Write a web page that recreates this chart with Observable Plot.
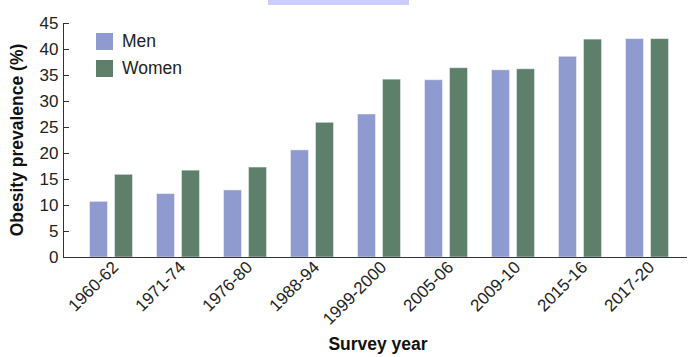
<!DOCTYPE html>
<html>
<head>
<meta charset="utf-8">
<script src="https://cdn.jsdelivr.net/npm/d3@7"></script>
<script src="https://cdn.jsdelivr.net/npm/@observablehq/plot@0.6"></script>
<style>
  body { margin: 0; background: #fff; font-family: "Liberation Sans", Arial, Helvetica, sans-serif; }
  #wrap { position: relative; width: 700px; height: 357px; overflow: hidden; }
  #wrap svg { position: absolute; left: 0; top: 0; }
  .hl { position: absolute; left: 268px; top: 0; width: 141px; height: 5px; background: #ccccff; }
  .ytitle { position: absolute; left: 17px; top: 140px; transform: translate(-50%, -50%) rotate(-90deg);
            font-weight: bold; font-size: 17.5px; color: #111; white-space: nowrap; }
  .xtitle { position: absolute; left: 378px; top: 334px; transform: translateX(-50%);
            font-weight: bold; font-size: 17.5px; color: #111; white-space: nowrap; }
  .legend { position: absolute; left: 96px; top: 28px; font-size: 17.5px; color: #222; }
  .legend .item { display: flex; align-items: center; height: 27px; }
  .legend .sw { width: 17px; height: 17px; margin-right: 9px; }
</style>
</head>
<body>
<div id="wrap"></div>
<script>
const periods = ["1960-62", "1971-74", "1976-80", "1988-94", "1999-2000", "2005-06", "2009-10", "2015-16", "2017-20"];
const menValues = [10.7, 12.2, 12.9, 20.6, 27.5, 34.1, 36.0, 38.6, 42.0];
const womenValues = [15.9, 16.7, 17.3, 25.9, 34.2, 36.4, 36.2, 41.9, 42.0];
const sexes = ["Men", "Women"];
const sexColors = ["#8f9bcf", "#5e806b"];
const yTicks = [0, 5, 10, 15, 20, 25, 30, 35, 40, 45];
const yTitle = "Obesity prevalence (%)";
const xTitle = "Survey year";

const menData = periods.map((p, i) => ({period: p, sex: "Men", value: menValues[i]}));
const womenData = periods.map((p, i) => ({period: p, sex: "Women", value: womenValues[i]}));

const chart = Plot.plot({
  width: 700,
  height: 357,
  marginTop: 23,
  marginBottom: 100,
  marginLeft: 63,
  marginRight: 13,
  style: {fontFamily: "'Liberation Sans', Arial, Helvetica, sans-serif", fontSize: "17px", color: "#222", background: "transparent"},
  x: {domain: periods, paddingInner: 0.2565, paddingOuter: 0.268, align: 0.6},
  y: {domain: [0, 45]},
  color: {domain: sexes, range: sexColors},
  marks: [
    Plot.barY(menData, {x: "period", y: "value", fill: "sex", insetLeft: 3.5, insetRight: 28.5, stroke: "#ffffff", strokeOpacity: 0.45}),
    Plot.barY(womenData, {x: "period", y: "value", fill: "sex", insetLeft: 28.5, insetRight: 3.5, stroke: "#ffffff", strokeOpacity: 0.45}),
    Plot.ruleY([0], {stroke: "#333"}),
    Plot.frame({anchor: "left", stroke: "#333"}),
    Plot.axisY(yTicks, {tickSize: -6, tickPadding: 11, label: null, stroke: "#333", fill: "#222"}),
    Plot.axisX({tickRotate: -45, tickSize: 0, tickPadding: 7, dx: 4, label: null, fill: "#222"})
  ]
});

const wrap = document.getElementById("wrap");
wrap.appendChild(chart);

const hl = document.createElement("div"); hl.className = "hl"; wrap.appendChild(hl);
const yt = document.createElement("div"); yt.className = "ytitle"; yt.textContent = yTitle; wrap.appendChild(yt);
const xt = document.createElement("div"); xt.className = "xtitle"; xt.textContent = xTitle; wrap.appendChild(xt);

const legend = document.createElement("div"); legend.className = "legend";
sexes.forEach((s, i) => {
  const item = document.createElement("div"); item.className = "item";
  const sw = document.createElement("div"); sw.className = "sw"; sw.style.background = sexColors[i];
  const lb = document.createElement("span"); lb.textContent = s;
  item.appendChild(sw); item.appendChild(lb); legend.appendChild(item);
});
wrap.appendChild(legend);
</script>
</body>
</html>
